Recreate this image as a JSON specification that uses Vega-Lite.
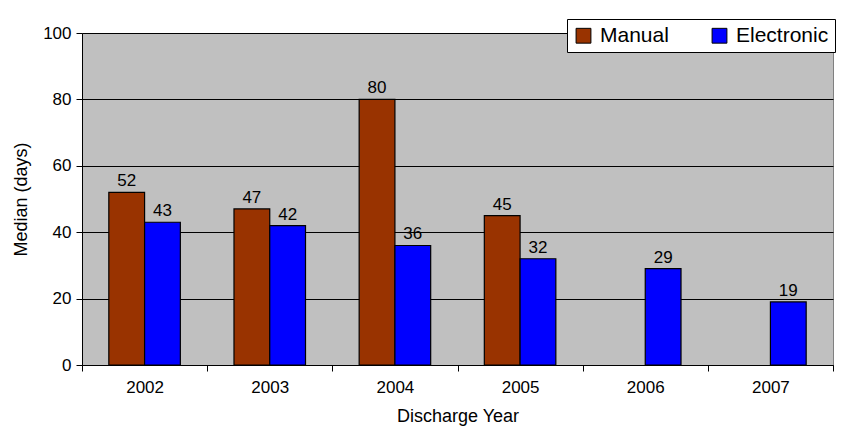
{
  "$schema": "https://vega.github.io/schema/vega-lite/v6.json",
  "width": 843,
  "height": 433,
  "autosize": {"type": "fit", "contains": "padding"},
  "padding": {"left": 12, "right": 9, "top": 24, "bottom": 8},
  "background": "white",
  "config": {
    "font": "Liberation Sans",
    "view": {"fill": "#C0C0C0", "stroke": "#808080"}
  },
  "data": {
    "values": [
      {"year": "2002", "type": "Manual", "median": 52},
      {"year": "2002", "type": "Electronic", "median": 43},
      {"year": "2003", "type": "Manual", "median": 47},
      {"year": "2003", "type": "Electronic", "median": 42},
      {"year": "2004", "type": "Manual", "median": 80},
      {"year": "2004", "type": "Electronic", "median": 36},
      {"year": "2005", "type": "Manual", "median": 45},
      {"year": "2005", "type": "Electronic", "median": 32},
      {"year": "2006", "type": "Electronic", "median": 29},
      {"year": "2007", "type": "Electronic", "median": 19}
    ]
  },
  "encoding": {
    "x": {
      "field": "year", "type": "nominal",
      "scale": {"paddingInner": 0, "paddingOuter": 0},
      "axis": {
        "title": "Discharge Year", "titleFontSize": 18, "titleFontWeight": "normal", "titleColor": "black", "titlePadding": 12,
        "labelFontSize": 17, "labelColor": "black", "labelAngle": 0, "labelPadding": 8,
        "domainColor": "black", "tickColor": "black", "tickBand": "extent", "tickSize": 6
      }
    },
    "xOffset": {"field": "type", "type": "nominal", "sort": ["Manual", "Electronic"], "scale": {"paddingInner": 0, "paddingOuter": 0.75}},
    "y": {
      "field": "median", "type": "quantitative",
      "scale": {"domain": [0, 100]},
      "axis": {
        "title": "Median (days)", "titleFontSize": 18, "titleFontWeight": "normal", "titleColor": "black", "titlePadding": 12,
        "labelFontSize": 17, "labelColor": "black", "values": [0, 20, 40, 60, 80, 100], "labelPadding": 5,
        "domainColor": "black", "tickColor": "black", "tickSize": 6,
        "grid": true, "gridColor": "black", "gridWidth": 1.2
      }
    }
  },
  "layer": [
    {
      "mark": {"type": "bar", "stroke": "black", "strokeWidth": 1.2},
      "encoding": {
        "color": {
          "field": "type", "type": "nominal",
          "scale": {"domain": ["Manual", "Electronic"], "range": ["#993300", "#0000FF"]},
          "legend": {
            "title": null, "orient": "none", "direction": "horizontal",
            "legendX": 485, "legendY": -14,
            "labelFontSize": 21, "labelColor": "black", "symbolType": "square", "symbolSize": 220,
            "symbolStrokeColor": "black", "symbolStrokeWidth": 1,
            "fillColor": "white", "strokeColor": "black", "padding": 6, "columnPadding": 40, "labelOffset": 6
          }
        }
      }
    },
    {
      "mark": {"type": "text", "dy": -11, "fontSize": 17, "color": "black"},
      "encoding": {"text": {"field": "median", "type": "quantitative"}}
    }
  ]
}
